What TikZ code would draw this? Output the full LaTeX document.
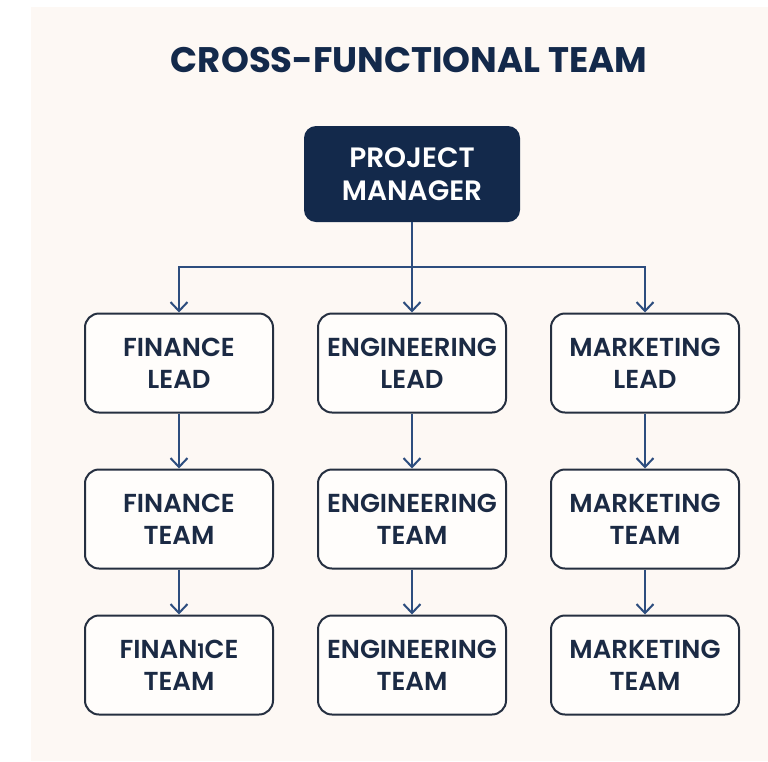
\documentclass[tikz,border=0pt]{standalone}
\usepackage{fontspec}
\setmainfont{Poppins}[BoldFont={Poppins SemiBold}]
\newfontfamily\titlefont{Poppins Bold}
\usetikzlibrary{arrows.meta}
\definecolor{cream}{HTML}{FDF8F4}
\definecolor{navy}{HTML}{13294B}
\definecolor{inktext}{HTML}{1B2A44}
\definecolor{linkblue}{HTML}{2D4D7E}
\definecolor{boxline}{HTML}{252F40}
\definecolor{boxfill}{HTML}{FFFDFB}
\tikzset{
  unitbox/.style={draw=boxline, line width=2pt, fill=boxfill, rounded corners=14pt,
    minimum width=188pt, minimum height=99pt, align=center, text=inktext,
    font=\fontsize{26}{32}\selectfont\bfseries, inner sep=0pt},
  pmbox/.style={fill=navy, rounded corners=12pt, minimum width=216pt, minimum height=96pt,
    align=center, text=white, font=\fontsize{28}{33}\selectfont\bfseries, inner sep=0pt},
  conn/.style={draw=linkblue, line width=2pt},
  arr/.style={conn, -{Straight Barb[length=9pt,width=17pt,line width=2pt]}},
}
\begin{document}
\begin{tikzpicture}[x=1pt,y=-1pt]
\useasboundingbox (0,0) rectangle (768,761);
\fill[white] (0,0) rectangle (768,761);
\fill[cream] (31,7) rectangle (768,761);
\node[text=navy, font=\titlefont\fontsize{35.5}{44}\selectfont] (title) at (409,60) {CROSS-FUNCTIONAL TEAM};
\node[pmbox] (pm) at (412,174) {PROJECT\\MANAGER};
\node[unitbox] (fl) at (179,363) {FINANCE\\LEAD};
\node[unitbox] (el) at (412,363) {ENGINEERING\\LEAD};
\node[unitbox] (ml) at (645,363) {MARKETING\\LEAD};
\node[unitbox] (ft) at (179,519) {FINANCE\\TEAM};
\node[unitbox] (et) at (412,519) {ENGINEERING\\TEAM};
\node[unitbox] (mt) at (645,519) {MARKETING\\TEAM};
\node[unitbox] (ft2) at (179,665) {FINAN{\fontsize{20}{20}\selectfont 1}CE\\TEAM};
\node[unitbox] (et2) at (412,665) {ENGINEERING\\TEAM};
\node[unitbox] (mt2) at (645,665) {MARKETING\\TEAM};
\coordinate (bus) at (412,267);
\draw[conn] (pm.south) -- (bus);
\draw[arr] (bus) -| (fl.north);
\draw[arr] (bus) -| (ml.north);
\draw[arr] (bus) -- (el.north);
\draw[arr] (fl) -- (ft);
\draw[arr] (el) -- (et);
\draw[arr] (ml) -- (mt);
\draw[arr] (ft) -- (ft2);
\draw[arr] (et) -- (et2);
\draw[arr] (mt) -- (mt2);
\end{tikzpicture}
\end{document}
